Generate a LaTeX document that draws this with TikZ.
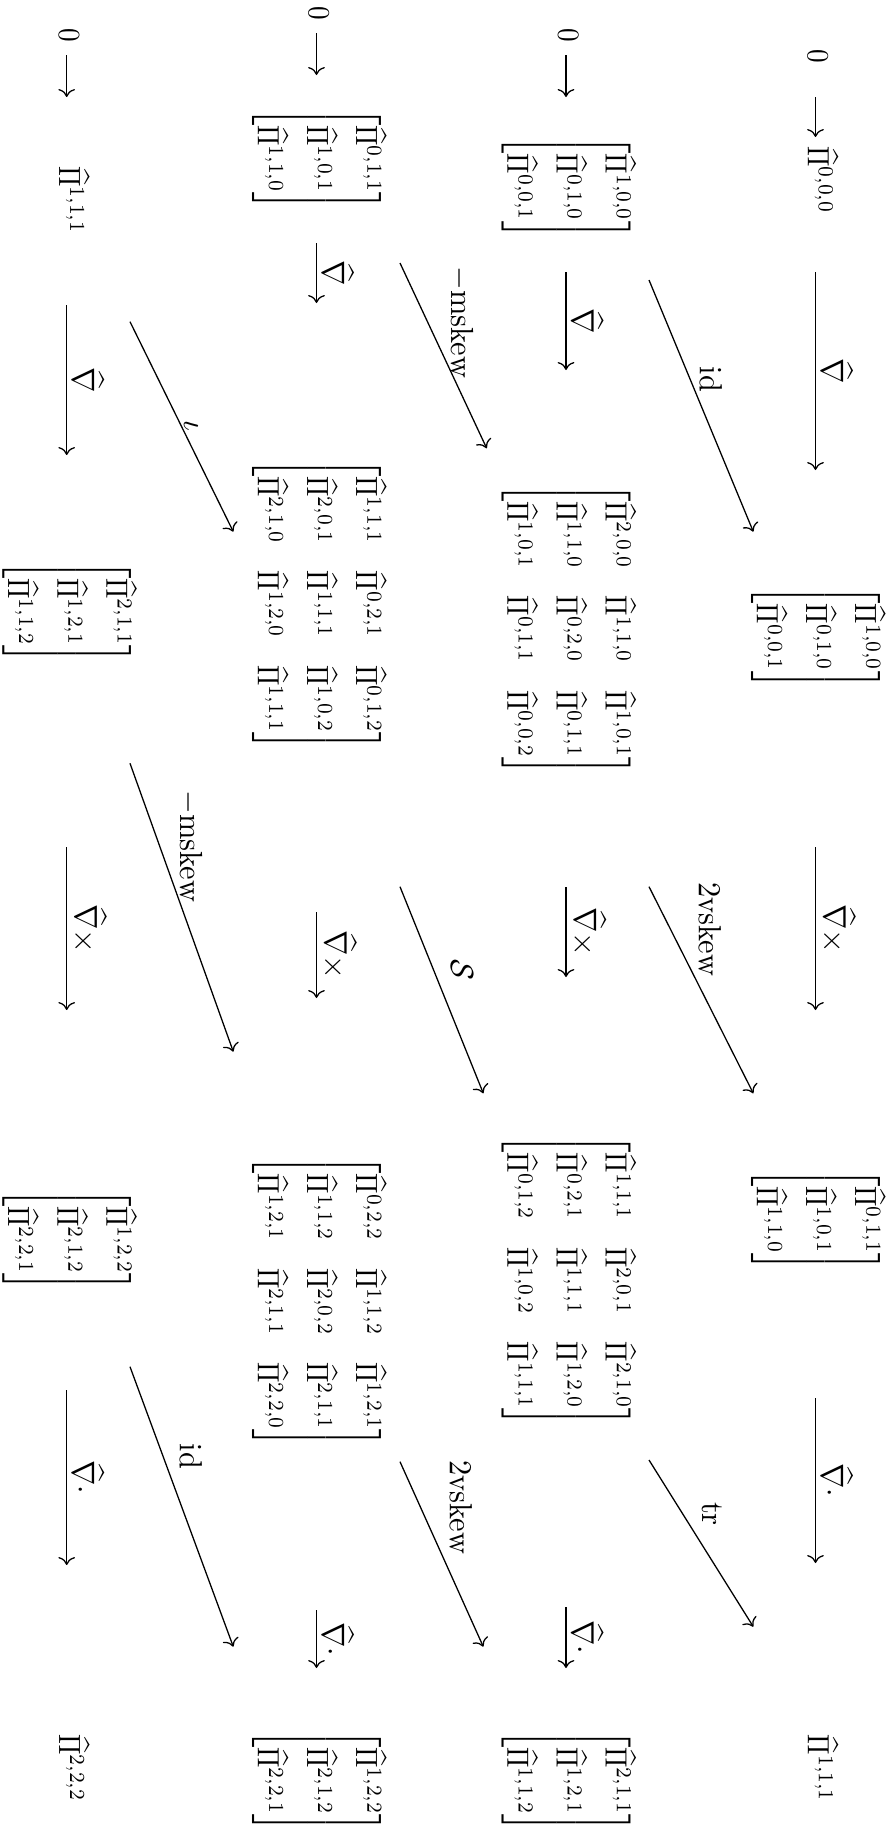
\documentclass[tikz,border=0pt]{standalone}
\usepackage{amsmath}
\usetikzlibrary{arrows.meta}
\newcommand\Pih[1]{\widehat{\Pi}^{#1}}
\newcommand\vecm[3]{\begin{bmatrix}\Pih{#1}\\[2.65pt]\Pih{#2}\\[2.65pt]\Pih{#3}\end{bmatrix}}
\begin{document}
\begin{tikzpicture}[x=0.3125pt, y=-0.3125pt,
  every node/.style={rotate=-90, inner sep=0pt},
  obj/.style={anchor=center, xscale=0.85, yscale=0.96},
  pt/.style={anchor=base, xscale=0.85, yscale=0.96},
  arr/.style={-{Computer Modern Rightarrow}, line width=0.4pt},
  lab/.style={anchor=south, inner sep=1.6pt, xscale=0.95},
  dlab/.style={anchor=center, xscale=0.95}]
\useasboundingbox (0,0) rectangle (891,1838);

% ---------- row 1 (axis x = 815.5) ----------
\node[pt] (z1) at (807.8,56) {$0$};
\node[pt] (P000) at (807.8,180) {$\Pih{0,0,0}$};
\node[obj] (V1a) at (815.5,637.5) {$\vecm{1,0,0}{0,1,0}{0,0,1}$};
\node[obj] (V1b) at (815.5,1220) {$\vecm{0,1,1}{1,0,1}{1,1,0}$};
\node[pt] (P111a) at (807.8,1768.5) {$\Pih{1,1,1}$};

% ---------- row 2 (axis x = 566) ----------
\node[pt] (z2) at (558.3,35) {$0$};
\node[obj] (V2a) at (566,187.5) {$\vecm{1,0,0}{0,1,0}{0,0,1}$};
\node[obj] (M2a) at (566,629.5) {$\begin{bmatrix}
 \Pih{2,0,0} & \Pih{1,1,0} & \Pih{1,0,1}\\[2.65pt]
 \Pih{1,1,0} & \Pih{0,2,0} & \Pih{0,1,1}\\[2.65pt]
 \Pih{1,0,1} & \Pih{0,1,1} & \Pih{0,0,2}\end{bmatrix}$};
\node[obj] (M2b) at (566,1280.8) {$\begin{bmatrix}
 \Pih{1,1,1} & \Pih{2,0,1} & \Pih{2,1,0}\\[2.65pt]
 \Pih{0,2,1} & \Pih{1,1,1} & \Pih{1,2,0}\\[2.65pt]
 \Pih{0,1,2} & \Pih{1,0,2} & \Pih{1,1,1}\end{bmatrix}$};
\node[obj] (V2b) at (566,1781) {$\vecm{2,1,1}{1,2,1}{1,1,2}$};

% ---------- row 3 (axis x = 316.5) ----------
\node[pt] (z3) at (308.8,13.5) {$0$};
\node[obj] (V3a) at (316.5,159) {$\vecm{0,1,1}{1,0,1}{1,1,0}$};
\node[obj] (M3a) at (316.5,604.5) {$\begin{bmatrix}
 \Pih{1,1,1} & \Pih{0,2,1} & \Pih{0,1,2}\\[2.65pt]
 \Pih{2,0,1} & \Pih{1,1,1} & \Pih{1,0,2}\\[2.65pt]
 \Pih{2,1,0} & \Pih{1,2,0} & \Pih{1,1,1}\end{bmatrix}$};
\node[obj] (M3b) at (316.5,1301.7) {$\begin{bmatrix}
 \Pih{0,2,2} & \Pih{1,1,2} & \Pih{1,2,1}\\[2.65pt]
 \Pih{1,1,2} & \Pih{2,0,2} & \Pih{2,1,1}\\[2.65pt]
 \Pih{1,2,1} & \Pih{2,1,1} & \Pih{2,2,0}\end{bmatrix}$};
\node[obj] (V3b) at (316.5,1781) {$\vecm{1,2,2}{2,1,2}{2,2,1}$};

% ---------- row 4 (axis x = 66.7) ----------
\node[pt] (z4) at (59,35) {$0$};
\node[pt] (P111b) at (59,200) {$\Pih{1,1,1}$};
\node[obj] (V4a) at (66.7,612) {$\vecm{2,1,1}{1,2,1}{1,1,2}$};
\node[obj] (V4b) at (66.7,1240) {$\vecm{1,2,2}{2,1,2}{2,2,1}$};
\node[pt] (P222) at (59,1768) {$\Pih{2,2,2}$};

% ---------- arrow end points ----------
% row 1
\coordinate (r1a) at (815.5,97);   \coordinate (r1b) at (815.5,137);
\coordinate (r1c) at (815.5,272);  \coordinate (r1d) at (815.5,470);
\coordinate (r1e) at (815.5,847);  \coordinate (r1f) at (815.5,1010);
\coordinate (r1g) at (815.5,1398); \coordinate (r1h) at (815.5,1563);
% row 2
\coordinate (r2a) at (566,55);   \coordinate (r2b) at (566,97);
\coordinate (r2c) at (566,272);  \coordinate (r2d) at (566,370);
\coordinate (r2e) at (566,887);  \coordinate (r2f) at (566,977);
\coordinate (r2g) at (566,1607); \coordinate (r2h) at (566,1668);
% row 3
\coordinate (r3a) at (316.5,33);   \coordinate (r3b) at (316.5,75);
\coordinate (r3c) at (316.5,243);  \coordinate (r3d) at (316.5,303);
\coordinate (r3e) at (316.5,912);  \coordinate (r3f) at (316.5,998);
\coordinate (r3g) at (316.5,1610); \coordinate (r3h) at (316.5,1668);
% row 4
\coordinate (r4a) at (66.7,55);   \coordinate (r4b) at (66.7,97);
\coordinate (r4c) at (66.7,305);  \coordinate (r4d) at (66.7,455);
\coordinate (r4e) at (66.7,847);  \coordinate (r4f) at (66.7,1010);
\coordinate (r4g) at (66.7,1390); \coordinate (r4h) at (66.7,1565);
% diagonals
\coordinate (d1s) at (649,280);   \coordinate (d1e) at (753.3,531.7);
\coordinate (d2s) at (649,886.7); \coordinate (d2e) at (753.3,1093.3);
\coordinate (d3s) at (649,1460);  \coordinate (d3e) at (753.3,1626.7);
\coordinate (d4s) at (400,263);   \coordinate (d4e) at (486.7,448.3);
\coordinate (d5s) at (400,886.7); \coordinate (d5e) at (483.3,1093.3);
\coordinate (d6s) at (400,1461.7);\coordinate (d6e) at (483.3,1646.7);
\coordinate (d7s) at (130,321.7); \coordinate (d7e) at (233.3,531.7);
\coordinate (d8s) at (130,763.3); \coordinate (d8e) at (233.3,1051.7);
\coordinate (d9s) at (130,1366.7);\coordinate (d9e) at (233.3,1646.7);

% ---------- horizontal arrows ----------
\draw[arr] (r1a) -- (r1b);
\draw[arr] (r1c) -- node[lab] {$\widehat{\nabla}$} (r1d);
\draw[arr] (r1e) -- node[lab] {$\widehat{\nabla}\times$} (r1f);
\draw[arr] (r1g) -- node[lab] {$\widehat{\nabla}\cdot$} (r1h);

\draw[arr] (r2a) -- (r2b);
\draw[arr] (r2c) -- node[lab] {$\widehat{\nabla}$} (r2d);
\draw[arr] (r2e) -- node[lab] {$\widehat{\nabla}\times$} (r2f);
\draw[arr] (r2g) -- node[lab] {$\widehat{\nabla}\cdot$} (r2h);

\draw[arr] (r3a) -- (r3b);
\draw[arr] (r3c) -- node[lab] {$\widehat{\nabla}$} (r3d);
\draw[arr] (r3e) -- node[lab] {$\widehat{\nabla}\times$} (r3f);
\draw[arr] (r3g) -- node[lab] {$\widehat{\nabla}\cdot$} (r3h);

\draw[arr] (r4a) -- (r4b);
\draw[arr] (r4c) -- node[lab] {$\widehat{\nabla}$} (r4d);
\draw[arr] (r4e) -- node[lab] {$\widehat{\nabla}\times$} (r4f);
\draw[arr] (r4g) -- node[lab] {$\widehat{\nabla}\cdot$} (r4h);

% ---------- diagonal arrows ----------
\draw[arr] (d1s) -- (d1e);
\draw[arr] (d2s) -- (d2e);
\draw[arr] (d3s) -- (d3e);
\draw[arr] (d4s) -- (d4e);
\draw[arr] (d5s) -- (d5e);
\draw[arr] (d6s) -- (d6e);
\draw[arr] (d7s) -- (d7e);
\draw[arr] (d8s) -- (d8e);
\draw[arr] (d9s) -- (d9e);

\node[dlab] (l1) at (711,379.5) {$\mathrm{id}$};
\node[dlab] (l2) at (710,929.5) {$2\mathrm{vskew}$};
\node[dlab] (l3) at (712,1514) {$\mathrm{tr}$};
\node[dlab] (l4) at (461,322.5) {$-\mathrm{mskew}$};
\node[dlab] (l5) at (462,970) {$\mathcal{S}$};
\node[dlab] (l6) at (461,1507.5) {$2\mathrm{vskew}$};
\node[dlab] (l7) at (191,426) {$\iota$};
\node[dlab] (l8) at (190,846.5) {$-\mathrm{mskew}$};
\node[dlab] (l9) at (191,1456.5) {$\mathrm{id}$};
\end{tikzpicture}
\end{document}
